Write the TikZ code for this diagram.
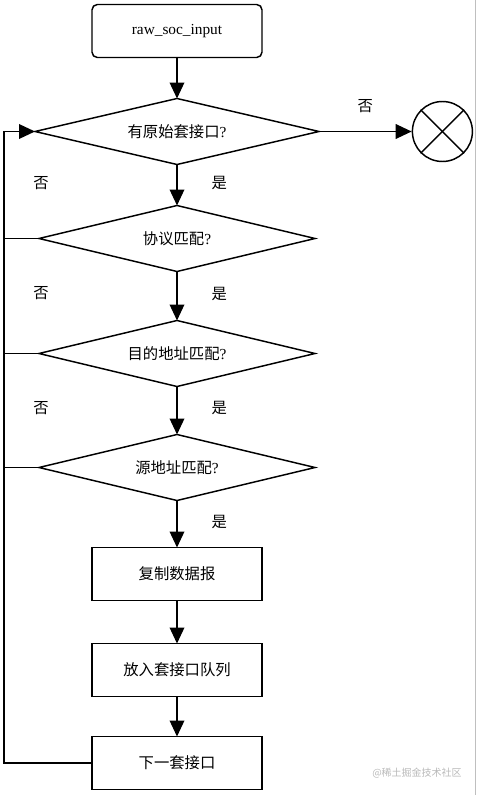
\documentclass[tikz,border=0pt]{standalone}
\usepackage{fontspec}
\setmainfont{Liberation Serif}
\newfontfamily\cjk{Noto Sans CJK SC}
\usetikzlibrary{positioning, arrows.meta, shapes.geometric}

\begin{document}
\begin{tikzpicture}[
        node distance=30.75pt,
        >={Triangle[width=11pt, length=12pt]},
        line width=1.1pt,
        font=\fontsize{11.5}{14}\selectfont,
        process/.style={draw, outer sep=0pt, minimum width=127.5pt, minimum height=39.75pt, align=center},
        start/.style={process, rounded corners=4pt},
        decision/.style={diamond, aspect=4.2, draw, outer sep=0pt, align=center, inner sep=1pt, minimum width=#1, minimum height=49.5pt},
        decision/.default=207pt,
        yes/.style={right=22pt, pos=0.45, font=\cjk\fontsize{11.5}{14}\selectfont},
        no/.style={font=\cjk\fontsize{11.5}{14}\selectfont}
    ]
        \useasboundingbox (0,0) rectangle (357.75pt,-596.25pt);
        \node[start] (input) at (132.75pt,-23.25pt) {raw\_soc\_input};
        \node[decision=213pt, below=of input] (hassock) {{\cjk 有原始套接口}?};
        \node[decision, below=of hassock] (proto) {{\cjk 协议匹配}?};
        \node[decision, below=36.75pt of proto] (dstaddr) {{\cjk 目的地址匹配}?};
        \node[decision, below=36pt of dstaddr] (srcaddr) {{\cjk 源地址匹配}?};
        \node[process, below=35.25pt of srcaddr] (copy) {\cjk 复制数据报};
        \node[process, below=32.25pt of copy] (enqueue) {\cjk 放入套接口队列};
        \node[process, below=30pt of enqueue] (nextsock) {\cjk 下一套接口};
        \node[draw, circle, minimum size=45pt, right=69.5pt of hassock] (stop) {};
        \draw (stop.north west) -- (stop.south east);
        \draw (stop.north east) -- (stop.south west);
        \coordinate (loop) at (3pt,0);

        \draw[->] (input) -- (hassock);
        \draw[->] (hassock) -- node[yes] (yes1) {是} (proto);
        \draw[->] (proto) -- node[yes] (yes2) {是} (dstaddr);
        \draw[->] (dstaddr) -- node[yes] (yes3) {是} (srcaddr);
        \draw[->] (srcaddr) -- node[yes] (yes4) {是} (copy);
        \draw[->] (copy) -- (enqueue);
        \draw[->] (enqueue) -- (nextsock);
        \draw[->] (hassock.east) -- node[no, above=10pt] (stoplbl) {否} (stop.west);

        % back to the next socket
        \draw[->] (nextsock.west) -- (nextsock.west -| loop) |- (hassock.west);
        \draw (proto.west) -- (proto.west -| loop);
        \draw (dstaddr.west) -- (dstaddr.west -| loop);
        \draw (srcaddr.west) -- (srcaddr.west -| loop);
        \node[no, xshift=27.75pt] (no1) at (loop |- yes1) {否};
        \node[no, xshift=27.75pt] (no2) at (loop |- yes2) {否};
        \node[no, xshift=27.75pt] (no3) at (loop |- yes3) {否};

        \node[font=\cjk\fontsize{7.5}{9}\selectfont, text=gray!55] (mark) at (312.75pt,-579.75pt) {@稀土掘金技术社区};
        \draw[gray!50, line width=1pt] (356.5pt,0) -- (356.5pt,-596.25pt);
    \end{tikzpicture}
\end{document}
